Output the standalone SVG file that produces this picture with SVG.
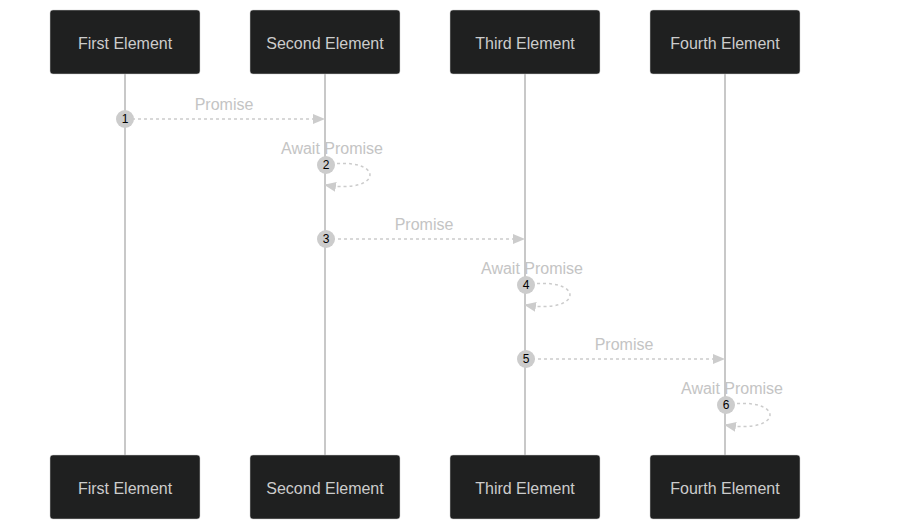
<svg xmlns="http://www.w3.org/2000/svg" width="914" height="531" viewBox="0 0 914 531">
<style>
.actor rect{fill:#1f2020;stroke:#cccccc;stroke-width:0.5}
.actor text{font-family:"Liberation Sans",Arial,sans-serif;font-size:16px;fill:#cccccc;text-anchor:middle}
.life{stroke:#c8c8c8;stroke-width:2}
.msg{fill:none;stroke:#cccccc;stroke-width:1.5;stroke-dasharray:3,3}
.lbl{font-family:"Liberation Sans",Arial,sans-serif;font-size:16px;fill:#c4c4c4;text-anchor:middle}
.num circle{fill:#cccccc}
.num text{font-family:"Liberation Sans",Arial,sans-serif;font-size:12px;fill:#000;text-anchor:middle}
</style>
<defs>
<marker id="ah" viewBox="0 0 12 10" refX="11" refY="5" markerWidth="12" markerHeight="10" markerUnits="userSpaceOnUse" orient="auto">
<path d="M0,0 L12,5 L0,10 z" fill="#cccccc"/>
</marker>
</defs>
<g id="lifelines">
<line class="life" x1="125" y1="74" x2="125" y2="455"/>
<line class="life" x1="325" y1="74" x2="325" y2="455"/>
<line class="life" x1="525" y1="74" x2="525" y2="455"/>
<line class="life" x1="725" y1="74" x2="725" y2="455"/>
</g>
<g id="first-top" class="actor"><rect x="50" y="10" width="150" height="64" rx="3"/><text x="125" y="48.5">First Element</text></g>
<g id="second-top" class="actor"><rect x="250" y="10" width="150" height="64" rx="3"/><text x="325" y="48.5">Second Element</text></g>
<g id="third-top" class="actor"><rect x="450" y="10" width="150" height="64" rx="3"/><text x="525" y="48.5">Third Element</text></g>
<g id="fourth-top" class="actor"><rect x="650" y="10" width="150" height="64" rx="3"/><text x="725" y="48.5">Fourth Element</text></g>
<g id="first-bottom" class="actor"><rect x="50" y="455" width="150" height="64" rx="3"/><text x="125" y="493.5">First Element</text></g>
<g id="second-bottom" class="actor"><rect x="250" y="455" width="150" height="64" rx="3"/><text x="325" y="493.5">Second Element</text></g>
<g id="third-bottom" class="actor"><rect x="450" y="455" width="150" height="64" rx="3"/><text x="525" y="493.5">Third Element</text></g>
<g id="fourth-bottom" class="actor"><rect x="650" y="455" width="150" height="64" rx="3"/><text x="725" y="493.5">Fourth Element</text></g>
<g id="connectors">
<line class="msg" x1="126" y1="119" x2="324" y2="119" marker-end="url(#ah)"/>
<path class="msg" d="M325,165 C385,155 385,195 325,185" marker-end="url(#ah)"/>
<line class="msg" x1="326" y1="239" x2="524" y2="239" marker-end="url(#ah)"/>
<path class="msg" d="M525,285 C585,275 585,315 525,305" marker-end="url(#ah)"/>
<line class="msg" x1="526" y1="359" x2="724" y2="359" marker-end="url(#ah)"/>
<path class="msg" d="M725,405 C785,395 785,435 725,425" marker-end="url(#ah)"/>
<text class="lbl" x="224" y="110">Promise</text>
<text class="lbl" x="332" y="154">Await Promise</text>
<text class="lbl" x="424" y="230">Promise</text>
<text class="lbl" x="532" y="274">Await Promise</text>
<text class="lbl" x="624" y="350">Promise</text>
<text class="lbl" x="732" y="394">Await Promise</text>
<g class="num"><circle cx="125" cy="119" r="9"/><text x="125" y="123">1</text></g>
<g class="num"><circle cx="326" cy="165" r="9"/><text x="326" y="169">2</text></g>
<g class="num"><circle cx="326" cy="239" r="9"/><text x="326" y="243">3</text></g>
<g class="num"><circle cx="526" cy="285" r="9"/><text x="526" y="289">4</text></g>
<g class="num"><circle cx="526" cy="359" r="9"/><text x="526" y="363">5</text></g>
<g class="num"><circle cx="726" cy="405" r="9"/><text x="726" y="409">6</text></g>
</g>
</svg>
